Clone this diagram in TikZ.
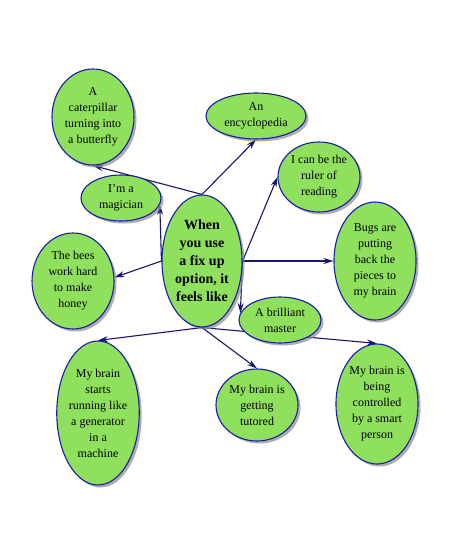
\documentclass[tikz,border=0pt]{standalone}
\usepackage{fontspec}
\setmainfont{Liberation Serif}
\usetikzlibrary{shapes.geometric,arrows.meta,shadows,backgrounds}
\definecolor{leaf}{HTML}{8FE05C}
\definecolor{rim}{HTML}{1C1CA8}
\definecolor{navy}{HTML}{16166E}
\begin{document}
\begin{tikzpicture}[x=1pt,y=-1pt,
  bub/.style={ellipse, draw=rim, line width=1.1pt, fill=leaf, inner sep=0pt, align=center,
    font=\fontsize{12}{16}\selectfont,
    drop shadow={shadow xshift=2.5pt, shadow yshift=-2.5pt, fill=black!45, opacity=0.7}},
  link/.style={draw=navy, line width=1.1pt, -{Stealth[length=10pt,width=6pt]}}]
\useasboundingbox (0,0) rectangle (450,551);
\node[bub, minimum width=80pt, minimum height=132pt, font=\bfseries\fontsize{14}{18}\selectfont] (c) at (202,261) {When\\you use\\a fix up\\option, it\\feels like};
\node[bub, minimum width=82pt, minimum height=96pt] (cat) at (93,117) {A\\caterpillar\\turning into\\a butterfly};
\node[bub, minimum width=100pt, minimum height=46pt] (ency) at (256,116) {An\\encyclopedia};
\node[bub, minimum width=80pt, minimum height=46pt] (mag) at (121,198) {I'm a\\magician};
\node[bub, minimum width=82pt, minimum height=70pt] (ruler) at (319,177) {I can be the\\ruler of\\reading};
\node[bub, minimum width=82pt, minimum height=118pt] (bugs) at (375,261) {Bugs are\\putting\\back the\\pieces to\\my brain};
\node[bub, minimum width=82pt, minimum height=96pt] (bees) at (73,281) {The bees\\work hard\\to make\\honey};
\node[bub, minimum width=82pt, minimum height=46pt] (master) at (280,320) {A brilliant\\master};
\node[bub, minimum width=80pt, minimum height=144pt] (gen) at (98,413) {My brain\\starts\\running like\\a generator\\in a\\machine};
\node[bub, minimum width=82pt, minimum height=72pt] (tut) at (257,405) {My brain is\\getting\\tutored};
\node[bub, minimum width=82pt, minimum height=120pt] (ctrl) at (377,404) {My brain is\\being\\controlled\\by a smart\\person};
\begin{scope}[on background layer]
\fill[white] (0,0) rectangle (450,551);
\draw[link] (c.north) -- (cat.south);
\draw[link] (c.north) -- (ency.south);
\draw[link] (c.west) -- (mag.-10);
\draw[link] (c.west) -- (bees.5);
\draw[link] (c.east) -- (ruler.west);
\draw[link] (c.east) -- (bugs.west);
\draw[link] (c.east) -- (master.170);
\draw[link] (c.south) -- (gen.north);
\draw[link] (c.south) -- (tut.north);
\draw[link] (c.south) -- (ctrl.north);
\end{scope}
\end{tikzpicture}
\end{document}
